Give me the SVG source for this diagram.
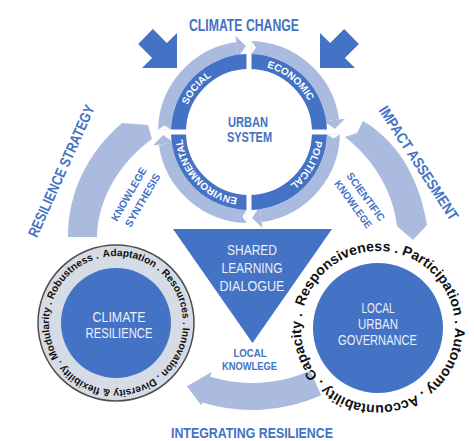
<svg xmlns="http://www.w3.org/2000/svg" width="474" height="441" viewBox="0 0 474 441">
<style>
  text { font-family: "Liberation Sans", Arial, sans-serif; }
  .tb { fill:#4472C4; font-weight:bold; }
  .tw { fill:#FFFFFF; font-weight:bold; font-size:10px; }
  .tl { fill:#EAF0FA; font-size:14px; }
  .tk { fill:#111111; font-weight:bold; }
  .dark { fill:#4472C4; }
  .light { fill:#ABBADF; }
  .lband { fill:none; stroke:#ABBADF; stroke-width:13; }
  .gap { fill:#FFFFFF; }
</style>
<rect width="474" height="441" fill="#FFFFFF"/>

<g id="connectors">
  <!-- climate change arrows -->
  <polygon class="dark" points="177,68 177,33 166.9,43.1 152.9,29.1 138.1,43.9 152.1,57.9 142,68"/>
  <polygon class="dark" points="320,68 320,33 330.1,43.1 344.1,29.1 358.9,43.9 344.9,57.9 355,68"/>
  <!-- resilience strategy arc -->
  <path class="light" d="M68,237 C68,192 88,152 122,123 L148,125 L152,139 C123,160 98,195 97,237 Z"/>
  <!-- impact assessment arc -->
  <path class="light" d="M363,121 C392,138 418,170 427,225 L413,240 L397,226 C394,195 375,160 345,137 L357,133 Z"/>
  <!-- integrating resilience arc -->
  <path class="light" d="M321.15,395.30 A170,170 0 0 1 202.30,402.57 L201.42,405.44 L186.92,386.17 L211.65,371.97 L210.19,376.75 A143,143 0 0 0 310.16,370.64 Z"/>
  <!-- labels -->
  <text class="tb" x="244" y="31" font-size="16" text-anchor="middle" textLength="110" lengthAdjust="spacingAndGlyphs">CLIMATE CHANGE</text>
  <text class="tb" font-size="15" text-anchor="middle" textLength="143" lengthAdjust="spacingAndGlyphs" transform="translate(66,173) rotate(-66)">RESILIENCE STRATEGY</text>
  <text class="tb" font-size="15" text-anchor="middle" textLength="133" lengthAdjust="spacingAndGlyphs" transform="translate(414.4,166) rotate(57)">IMPACT ASSESMENT</text>
  <text class="tb" x="252" y="438" font-size="15" text-anchor="middle" textLength="162" lengthAdjust="spacingAndGlyphs">INTEGRATING RESILIENCE</text>
  <text class="tb" font-size="10.5" text-anchor="middle" textLength="60" lengthAdjust="spacingAndGlyphs" transform="translate(132,196) rotate(-60)">KNOWLEGE</text>
  <text class="tb" font-size="10.5" text-anchor="middle" textLength="60" lengthAdjust="spacingAndGlyphs" transform="translate(145.7,202) rotate(-60)">SYNTHESIS</text>
  <text class="tb" font-size="10.5" text-anchor="middle" textLength="57" lengthAdjust="spacingAndGlyphs" transform="translate(362.8,198.9) rotate(54)">SCIENTIFIC</text>
  <text class="tb" font-size="10.5" text-anchor="middle" textLength="56" lengthAdjust="spacingAndGlyphs" transform="translate(350.3,206.4) rotate(54)">KNOWLEGE</text>
  <text class="tb" x="250" y="357" font-size="10.5" text-anchor="middle" textLength="33" lengthAdjust="spacingAndGlyphs">LOCAL</text>
  <text class="tb" x="249.5" y="370" font-size="10.5" text-anchor="middle" textLength="55" lengthAdjust="spacingAndGlyphs">KNOWLEGE</text>
</g>

<g id="urban-system">
  <path class="lband" d="M164.5,132 A84.5,84.5 0 0 1 237.24,48.32"/>
  <path class="lband" d="M249,47.5 A84.5,84.5 0 0 1 332.68,120.24"/>
  <path class="lband" d="M333.5,132 A84.5,84.5 0 0 1 260.76,215.68"/>
  <path class="lband" d="M249,216.5 A84.5,84.5 0 0 1 165.32,143.76"/>
  <polygon class="light" points="238.42,56.74 235.50,35.94 246.0,46.05"/>
  <polygon class="light" points="324.26,121.42 345.06,118.50 334.95,129.0"/>
  <polygon class="light" points="259.58,207.26 262.50,228.06 252.0,217.95"/>
  <polygon class="light" points="173.74,142.58 152.94,145.50 163.05,135.0"/>
  <circle cx="249" cy="132" r="70.5" fill="none" stroke="#4472C4" stroke-width="15"/>
  <rect class="gap" x="246.5" y="38" width="5" height="188"/>
  <rect class="gap" x="155" y="129.5" width="188" height="5"/>
  <polygon class="gap" points="158,129.5 171,129.5 164.5,125.5"/>
  <polygon class="gap" points="251.5,41 251.5,54 256,47.5"/>
  <polygon class="gap" points="327,134.5 340,134.5 333.5,138.5"/>
  <polygon class="gap" points="246.5,210 246.5,223 242.5,216.5"/>
  <path id="pSoc" d="M182,132 A67,67 0 0 1 237.37,66.02" fill="none"/>
  <path id="pEco" d="M247.83,65.01 A67,67 0 0 1 314.77,119.22" fill="none"/>
  <path id="pPol" d="M314.98,120.37 A67,67 0 0 1 271.91,194.96" fill="none"/>
  <path id="pEnv" d="M240.83,198.50 A67,67 0 0 1 182.09,135.51" fill="none"/>
  <text class="tw" text-anchor="middle"><textPath href="#pSoc" startOffset="50%">SOCIAL</textPath></text>
  <text class="tw" text-anchor="middle"><textPath href="#pEco" startOffset="50%">ECONOMIC</textPath></text>
  <text class="tw" text-anchor="middle"><textPath href="#pPol" startOffset="50%">POLITICAL</textPath></text>
  <text class="tw" text-anchor="middle"><textPath href="#pEnv" startOffset="50%">ENVIRONMENTAL</textPath></text>
  <text class="tb" x="248" y="127" font-size="14" text-anchor="middle" textLength="40" lengthAdjust="spacingAndGlyphs">URBAN</text>
  <text class="tb" x="249.5" y="142" font-size="14" text-anchor="middle" textLength="45" lengthAdjust="spacingAndGlyphs">SYSTEM</text>
</g>

<g id="shared-learning">
  <polygon class="dark" points="173,229 332,229 252.5,343"/>
  <text class="tl" x="252" y="255" text-anchor="middle" textLength="50" lengthAdjust="spacingAndGlyphs">SHARED</text>
  <text class="tl" x="252" y="273" text-anchor="middle" textLength="61" lengthAdjust="spacingAndGlyphs">LEARNING</text>
  <text class="tl" x="252" y="291" text-anchor="middle" textLength="65" lengthAdjust="spacingAndGlyphs">DIALOGUE</text>
</g>

<g id="climate-resilience">
  <circle cx="116" cy="323" r="78" fill="#D6DCE5" stroke="#4D4D4D" stroke-width="1.5"/>
  <circle cx="116" cy="323" r="55" class="dark"/>
  <path id="pCR" d="M103.22,257.23 A67,67 0 1 1 128.78,388.77 A67,67 0 1 1 103.22,257.23" fill="none"/>
  <text class="tk" font-size="10.2"><textPath href="#pCR">Adaptation . Resources . Innovation . Diversity &amp; flexibility . Modularity . Robustness . </textPath></text>
  <text class="tl" x="119" y="322" text-anchor="middle" textLength="53" lengthAdjust="spacingAndGlyphs">CLIMATE</text>
  <text class="tl" x="119" y="338" text-anchor="middle" textLength="67" lengthAdjust="spacingAndGlyphs">RESILIENCE</text>
</g>

<g id="local-urban-governance">
  <circle cx="378" cy="328" r="65" class="dark"/>
  <path id="pLG" d="M303.98,306.78 A77,77 0 1 1 452.02,349.22 A77,77 0 1 1 303.98,306.78" fill="none"/>
  <text class="tk" font-size="14.1"><textPath href="#pLG">Responsiveness . Participation . Autonomy . Accountability . Capacity . </textPath></text>
  <text class="tl" x="378" y="313" font-size="13" text-anchor="middle" textLength="33" lengthAdjust="spacingAndGlyphs">LOCAL</text>
  <text class="tl" x="378" y="329" font-size="13" text-anchor="middle" textLength="40" lengthAdjust="spacingAndGlyphs">URBAN</text>
  <text class="tl" x="377.5" y="345" font-size="13" text-anchor="middle" textLength="79" lengthAdjust="spacingAndGlyphs">GOVERNANCE</text>
</g>
</svg>
